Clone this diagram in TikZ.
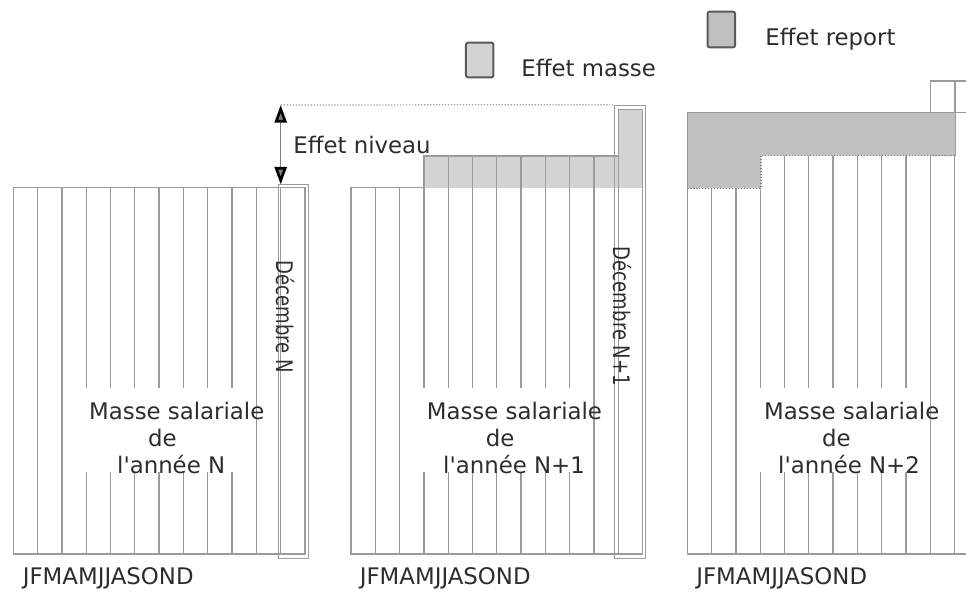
\documentclass[tikz,border=0pt]{standalone}
\usepackage{fontspec}
\setmainfont{DejaVu Sans}[Ligatures=TeXOff]
\usepackage{xcolor}
\usetikzlibrary{arrows.meta}
\definecolor{barline}{RGB}{155,155,155}
\definecolor{massefill}{RGB}{211,211,211}
\definecolor{reportfill}{RGB}{192,192,192}
\definecolor{legendedge}{RGB}{90,90,90}
\definecolor{textcol}{RGB}{45,45,45}
\tikzset{
  mois/.style={
    draw=barline,
    line width=0.7pt
  },
  decbox/.style={
    draw=barline,
    line width=0.7pt,
    inner sep=0
  },
  legende/.style={
    draw=legendedge,
    line width=1.1pt,
    rounded corners=1.2pt,
    inner sep=0,
    minimum width=0.55cm
  },
  etiquette/.style={
    inner sep=0,
    anchor=base west,
    text=textcol,
    font=\fontsize{13}{16}\selectfont
  },
  decembre/.style={
    etiquette,
    rotate=-90
  },
  pointille/.style={
    draw=barline,
    line width=0.7pt,
    densely dotted
  },
  niveaufleche/.style={
    draw=gray,
    line width=0.7pt,
    {Triangle[color=black, fill=gray, length=10pt, width=6.8pt, line width=1.5pt]}-{Triangle[color=black, fill=gray, length=10pt, width=6.8pt, line width=1.5pt]}
  }
}

\begin{document}
\begin{tikzpicture}[x=0.02cm, y=-0.02cm]
  \useasboundingbox (0,0) rectangle (966,592);
  \clip (0,0) rectangle (966,592);

  % legende
  \node[legende, fill=massefill, minimum height=0.697cm] (legMasse) at (479.7,60) {};
  \node[etiquette] (txtMasse) at (521,76) {Effet masse};
  \node[legende, fill=reportfill, minimum height=0.716cm] (legReport) at (721.3,29.5) {};
  \node[etiquette] (txtReport) at (765,45) {Effet report};

  % annee N
  \foreach \i in {0,...,10}
    \draw[mois] ({13.3+24.3*\i},187.7) rectangle ({37.6+24.3*\i},554);
  \draw[mois] (280.6,187.7) rectangle (304.9,554);
  \node[decbox, minimum width=0.599cm, minimum height=7.485cm] (decN) at (293.2,371.35) {};
  \fill[white] (83.3,388) rectangle (251.3,472);

  % annee N+1
  \fill[massefill] (423.3,156) rectangle (618.3,187.7);
  \fill[massefill] (618.3,109.3) rectangle (642.6,187.7);
  \foreach \i in {0,1,2}
    \draw[mois] ({351+24.3*\i},187.7) rectangle ({375.3+24.3*\i},554);
  \foreach \i in {3,...,10}
    \draw[mois] ({351+24.3*\i},156) rectangle ({375.3+24.3*\i},554);
  \draw[mois] (618.3,109.3) rectangle (642.6,554);
  \node[decbox, minimum width=0.619cm, minimum height=9.065cm] (decNplus) at (630,331.85) {};
  \fill[white] (421,388) rectangle (589,472);

  % annee N+2
  \foreach \i in {0,...,11}
    \draw[mois] ({687.3+24.3*\i},112.7) rectangle ({711.6+24.3*\i},554);
  \draw[mois] (930.7,81) rectangle (979.3,112.7);
  \draw[mois] (955,81) -- (955,112.7);
  \fill[reportfill] (687.3,112.7) -- (955.3,112.7) -- (955.3,155.7) -- (761,155.7)
    -- (761,188.3) -- (687.3,188.3) -- cycle;
  \draw[pointille, draw=gray] (687.3,188.3) -- (761,188.3) -- (761,155.7) -- (955.3,155.7);
  \draw[mois, draw=gray!80] (687.3,188.3) -- (687.3,112.7) -- (966,112.7);
  \draw[mois] (955.3,112.7) -- (955.3,155.7);
  \fill[white] (757.3,388) rectangle (925.3,472);

  % effet niveau
  \coordinate (niveauHaut) at (280.7,105);
  \coordinate (niveauBas) at (280.7,184.5);
  \draw[pointille] (niveauHaut) -- (decNplus.north west);
  \draw[niveaufleche] (niveauHaut) -- (niveauBas);
  \node[etiquette] (txtNiveau) at (293,153.3) {Effet niveau};

  % textes
  \node[decembre] (txtDecN) at (276.7,260.3) {\scalebox{0.79}[1]{Décembre N}};
  \node[decembre] (txtDecNplus) at (613.3,246.6) {\scalebox{0.79}[1]{Décembre N+1}};

  \node[etiquette] (masseN) at (88.8,419) {Masse salariale};
  \node[etiquette] (deN) at (147.7,446) {de};
  \node[etiquette] (anneeN) at (116.8,473.3) {l'année N};

  \node[etiquette] (masseNplus) at (426.5,419) {Masse salariale};
  \node[etiquette] (deNplus) at (485.4,446) {de};
  \node[etiquette] (anneeNplus) at (442.8,473.3) {l'année N+1};

  \node[etiquette] (masseNdeux) at (763.8,419) {Masse salariale};
  \node[etiquette] (deNdeux) at (821.7,446) {de};
  \node[etiquette] (anneeNdeux) at (777.8,473.3) {l'année N+2};

  \node[etiquette] (moisN) at (22.5,584) {JFMAMJJASOND};
  \node[etiquette] (moisNplus) at (359.5,584) {JFMAMJJASOND};
  \node[etiquette] (moisNdeux) at (696,584) {JFMAMJJASOND};
\end{tikzpicture}
\end{document}
